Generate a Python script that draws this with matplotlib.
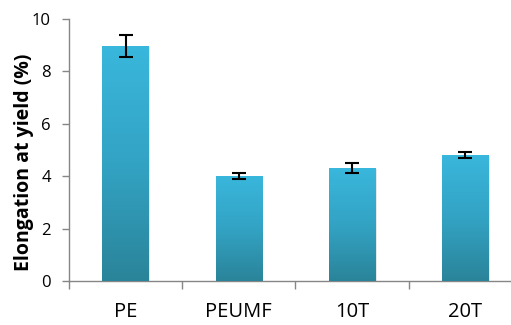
import matplotlib.pyplot as plt
import numpy as np
from matplotlib.colors import LinearSegmentedColormap

samples = ['PE', 'PEUMF', '10T', '20T']
elongation = [8.97, 4.01, 4.31, 4.81]
errors = [0.41, 0.12, 0.18, 0.13]

fig = plt.figure(figsize=(5.11, 3.25), dpi=100)
ax = fig.add_axes([0.135, 0.1354, 0.8865, 0.8061])

x = np.arange(len(samples))
bars = ax.bar(x, elongation, width=0.41, color='#33a6c8', zorder=2)

# gradient fill on each bar
cmap = LinearSegmentedColormap.from_list('g', ['#2a8499', '#33a3c4', '#39b7dc'])
grad = np.linspace(0, 1, 256).reshape(-1, 1)
for b in bars:
    x0, y0 = b.get_x(), b.get_y()
    w, h = b.get_width(), b.get_height()
    # subtle shadow on the right
    ax.bar(x0 + w / 2 + 0.012, h, width=w, bottom=-0.02, color='#d8d8d8',
           alpha=0.6, zorder=1)
    im = ax.imshow(grad, cmap=cmap, origin='lower', aspect='auto',
                   extent=[x0, x0 + w, y0, y0 + h], zorder=3)
    im.set_clip_path(b)

ax.errorbar(x, elongation, yerr=errors, fmt='none', ecolor='black',
            elinewidth=1.5, capsize=5, capthick=1.5, zorder=4)

ax.set_xlim(-0.5, len(samples) - 0.5)
ax.set_ylim(0, 10)
ax.set_yticks([0, 2, 4, 6, 8, 10])
ax.set_xticks(x)
ax.set_xticklabels(samples, fontsize=14.5, family='Open Sans')
ax.set_xticks(np.arange(-0.5, len(samples)), minor=True)
ax.tick_params(axis='x', which='major', length=0, pad=15)
ax.tick_params(axis='x', which='minor', length=6, color='#868686', width=1)
ax.tick_params(axis='y', length=5, color='#868686', width=1, pad=8,
               labelsize=12)
for lab in ax.get_yticklabels():
    lab.set_family('Open Sans')

ax.set_ylabel('Elongation at yield (%)', fontsize=14, fontweight='bold',
              family='Open Sans')
ax.yaxis.set_label_coords(-0.078, 0.454)

for s in ['top', 'right']:
    ax.spines[s].set_visible(False)
for s in ['left', 'bottom']:
    ax.spines[s].set_color('#868686')
    ax.spines[s].set_linewidth(1)

fig.savefig('out.png', dpi=100)
